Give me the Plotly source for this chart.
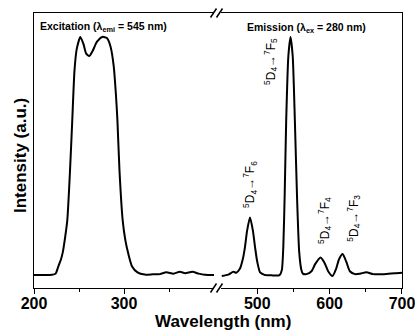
import plotly.graph_objects as go

# Excitation spectrum (lambda_emi = 545 nm)
exc_wl = [200, 210, 220, 224, 227, 230, 232, 234.5, 237, 240, 242.5, 245, 247.5, 251.5,
          255, 258, 261.5, 265, 270, 276, 281, 285, 288.5, 291, 292.7, 295, 298.5, 301.5,
          304.6, 309, 315, 323, 332, 340, 347, 355, 362, 368, 376, 383, 390, 400]
exc_int = [0.004, 0.004, 0.005, 0.01, 0.04, 0.07, 0.10, 0.16, 0.234, 0.44, 0.65, 0.86, 0.95, 1.0,
           0.97, 0.93, 0.92, 0.94, 0.98, 1.0, 0.995, 0.96, 0.88, 0.76, 0.65, 0.44, 0.234, 0.15,
           0.096, 0.04, 0.015, 0.006, 0.007, 0.008, 0.016, 0.010, 0.018, 0.012, 0.018, 0.010, 0.005, 0.004]

# Emission spectrum (lambda_ex = 280 nm)
emi_wl = [451, 460, 467, 471, 476, 480, 483, 486, 490, 494, 497, 500, 504, 510, 520, 529,
          531, 534, 536, 538, 540, 543, 546, 549, 552, 555, 558, 561, 563, 568, 575, 580,
          587.5, 593, 598, 604, 609, 613, 618, 623, 628, 635, 642, 651, 660, 675, 690, 700]
emi_int = [0.0, 0.006, 0.018, 0.014, 0.03, 0.07, 0.12, 0.19, 0.245, 0.19, 0.12, 0.06, 0.015, 0.005, 0.003, 0.002,
           0.004, 0.025, 0.12, 0.35, 0.65, 0.92, 1.0, 0.92, 0.65, 0.33, 0.10, 0.025, 0.01, 0.008, 0.02, 0.05,
           0.078, 0.055, 0.02, 0.0, 0.03, 0.07, 0.092, 0.06, 0.02, 0.008, 0.01, 0.016, 0.008, 0.008, 0.012, 0.014]

left_ticks = [200, 300]
left_minor = [250, 350]
right_ticks = [500, 600, 700]
right_minor = [550, 650]

transitions = ["<sup>5</sup>D<sub>4</sub>→<sup>7</sup>F<sub>6</sub>",
               "<sup>5</sup>D<sub>4</sub>→<sup>7</sup>F<sub>5</sub>",
               "<sup>5</sup>D<sub>4</sub>→<sup>7</sup>F<sub>4</sub>",
               "<sup>5</sup>D<sub>4</sub>→<sup>7</sup>F<sub>3</sub>"]
trans_x = [490.6, 518.2, 593.4, 634.1]
trans_y = [0.383, 0.897, 0.234, 0.241]

FONT = "Liberation Sans"
W, H = 415, 331
ML, MR, MT, MB = 34, 13, 13, 43
PW, PH = W - ML - MR, H - MT - MB

def px(xp):
    return (xp - ML) / PW

def py(yp):
    return (H - MB - yp) / PH

fig = go.Figure()
fig.add_trace(go.Scatter(x=exc_wl, y=exc_int, mode="lines", xaxis="x", yaxis="y",
                         line=dict(color="black", width=2, shape="spline", smoothing=0.6),
                         showlegend=False, hoverinfo="skip"))
fig.add_trace(go.Scatter(x=emi_wl, y=emi_int, mode="lines", xaxis="x2", yaxis="y2",
                         line=dict(color="black", width=2, shape="spline", smoothing=0.6),
                         showlegend=False, hoverinfo="skip"))

ax_common = dict(showline=True, linecolor="black", linewidth=1.4, mirror=True,
                 ticks="outside", ticklen=5, tickwidth=1.3, tickcolor="black",
                 showgrid=False, zeroline=False, ticklabelstandoff=-4,
                 ticklabeloverflow="allow", automargin=False,
                 tickfont=dict(family=FONT, size=16, color="black", weight="bold"))

fig.update_layout(
    width=W, height=H,
    margin=dict(l=ML, r=MR, t=MT, b=MB, autoexpand=False),
    paper_bgcolor="white", plot_bgcolor="white",
    xaxis=dict(domain=[0, 180 / PW], range=[200, 400], anchor="y",
               tickvals=left_ticks,
               minor=dict(tickvals=left_minor, ticks="outside", ticklen=3, tickwidth=1.2, tickcolor="black"),
               **ax_common),
    xaxis2=dict(domain=[(221.05 - ML) / PW, 1], range=[450, 700.02], anchor="y2",
                tickvals=right_ticks,
                minor=dict(tickvals=right_minor, ticks="outside", ticklen=3, tickwidth=1.2, tickcolor="black"),
                **ax_common),
    yaxis=dict(range=[-0.05, 1.10], anchor="x", showline=True, linecolor="black", linewidth=1.4,
               showticklabels=False, ticks="", showgrid=False, zeroline=False, automargin=False),
    yaxis2=dict(matches="y", anchor="x2", side="right", showline=True,
                linecolor="black", linewidth=1.4, showticklabels=False, ticks="",
                showgrid=False, zeroline=False, automargin=False),
)

anns = []
anns.append(dict(text="<b>Excitation (λ<sub>emi</sub> = 545 nm)</b>", x=px(103.5), y=py(27),
                 xref="paper", yref="paper", showarrow=False, xanchor="center", yanchor="middle",
                 font=dict(family=FONT, size=10.5, color="black")))
anns.append(dict(text="<b>Emission (λ<sub>ex</sub> = 280 nm)</b>", x=px(306), y=py(28),
                 xref="paper", yref="paper", showarrow=False, xanchor="center", yanchor="middle",
                 font=dict(family=FONT, size=10.5, color="black")))
anns.append(dict(text="<b>Wavelength (nm)</b>", x=px(223), y=py(321),
                 xref="paper", yref="paper", showarrow=False, xanchor="center", yanchor="middle",
                 font=dict(family=FONT, size=17, color="black")))
anns.append(dict(text="<b>Intensity (a.u.)</b>", x=px(20), y=py(156), textangle=-90,
                 xref="paper", yref="paper", showarrow=False, xanchor="center", yanchor="middle",
                 font=dict(family=FONT, size=17, color="black")))
for t, xx, yy in zip(transitions, trans_x, trans_y):
    anns.append(dict(text=t, x=xx, y=yy, xref="x2", yref="y", textangle=-90, showarrow=False,
                     xanchor="center", yanchor="middle",
                     font=dict(family=FONT, size=12, color="black")))
fig.update_layout(annotations=anns)

shapes = []
for ycen in [H - MB, MT]:
    for xc in [213.5, 219.5]:
        shapes.append(dict(type="line", xref="paper", yref="paper",
                           x0=px(xc - 3), y0=py(ycen + 4.5), x1=px(xc + 3), y1=py(ycen - 4.5),
                           line=dict(color="black", width=1.5)))
fig.update_layout(shapes=shapes)

fig.write_html("out.html")
